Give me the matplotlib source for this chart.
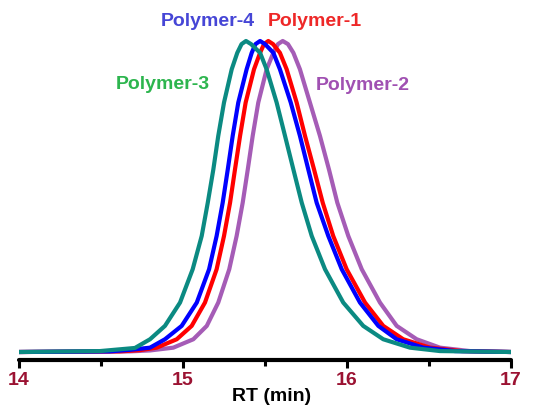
import matplotlib
matplotlib.use("Agg")
import matplotlib.pyplot as plt

# values (retention time in min, normalised signal)
rt_p3 = [14.000, 14.494, 14.707, 14.799, 14.890, 14.982, 15.059, 15.114, 15.151, 15.185,
         15.215, 15.250, 15.297, 15.331, 15.357, 15.384, 15.415, 15.470, 15.510, 15.571,
         15.622, 15.673, 15.724, 15.785, 15.866, 15.977, 16.099, 16.221, 16.384, 16.567, 17.000]
sig_p3 = [0.0, 0.003, 0.013, 0.041, 0.084, 0.159, 0.266, 0.373, 0.480, 0.587,
          0.695, 0.802, 0.909, 0.962, 0.990, 1.0, 0.990, 0.962, 0.909, 0.802,
          0.695, 0.587, 0.480, 0.373, 0.266, 0.159, 0.084, 0.041, 0.014, 0.003, 0.0]

rt_p4 = [14.000, 14.555, 14.677, 14.799, 14.890, 14.992, 15.084, 15.159, 15.205, 15.242,
         15.273, 15.303, 15.337, 15.388, 15.419, 15.442, 15.470, 15.500, 15.551, 15.591,
         15.657, 15.713, 15.764, 15.815, 15.886, 15.968, 16.079, 16.191, 16.303, 16.465,
         16.659, 17.000]
sig_p4 = [0.0, 0.002, 0.007, 0.014, 0.041, 0.084, 0.159, 0.266, 0.373, 0.480,
          0.587, 0.695, 0.802, 0.909, 0.962, 0.990, 1.0, 0.990, 0.962, 0.909,
          0.802, 0.695, 0.587, 0.480, 0.373, 0.266, 0.159, 0.084, 0.041, 0.014,
          0.003, 0.0]

rt_p1 = [14.000, 14.616, 14.738, 14.840, 14.962, 15.053, 15.134, 15.205, 15.250, 15.287,
         15.317, 15.348, 15.382, 15.433, 15.470, 15.494, 15.520, 15.549, 15.591, 15.632,
         15.693, 15.744, 15.799, 15.852, 15.916, 15.998, 16.110, 16.221, 16.343, 16.506,
         16.701, 17.000]
sig_p1 = [0.0, 0.002, 0.006, 0.014, 0.041, 0.084, 0.159, 0.266, 0.373, 0.480,
          0.587, 0.695, 0.802, 0.909, 0.962, 0.990, 1.0, 0.990, 0.962, 0.909,
          0.802, 0.695, 0.587, 0.480, 0.373, 0.266, 0.159, 0.084, 0.041, 0.014,
          0.003, 0.0]

rt_p2 = [14.000, 14.677, 14.799, 14.941, 15.063, 15.145, 15.215, 15.282, 15.327, 15.364,
         15.395, 15.425, 15.459, 15.510, 15.551, 15.579, 15.608, 15.640, 15.673, 15.713,
         15.774, 15.835, 15.890, 15.941, 16.008, 16.090, 16.201, 16.303, 16.425, 16.567,
         16.750, 17.000]
sig_p2 = [0.0, 0.002, 0.005, 0.014, 0.041, 0.084, 0.159, 0.266, 0.373, 0.480,
          0.587, 0.695, 0.802, 0.909, 0.962, 0.990, 1.0, 0.990, 0.962, 0.909,
          0.802, 0.695, 0.587, 0.480, 0.373, 0.266, 0.159, 0.084, 0.041, 0.014,
          0.003, 0.0]

x_ticks = [14, 15, 16, 17]
x_minor = [14.5, 15.5, 16.5]


def main():
    plt.rcParams["font.family"] = ["Liberation Sans", "DejaVu Sans"]
    plt.rcParams["font.weight"] = "bold"

    fig = plt.figure(figsize=(5.38, 4.07), dpi=100)
    ax = fig.add_axes([19 / 538, 47 / 407, 492 / 538, 340 / 407])

    lw = 3.0
    ax.plot(rt_p2, sig_p2, color="#a55cb6", lw=lw, solid_joinstyle="round")
    ax.plot(rt_p1, sig_p1, color="#ff0000", lw=lw, solid_joinstyle="round")
    ax.plot(rt_p4, sig_p4, color="#0000ff", lw=lw, solid_joinstyle="round")
    ax.plot(rt_p3, sig_p3, color="#0b8a82", lw=lw, solid_joinstyle="round")

    ax.set_xlim(14, 17)
    ax.set_ylim(-0.0257, 1.0675)

    for side in ["top", "left", "right"]:
        ax.spines[side].set_visible(False)
    ax.spines["bottom"].set_linewidth(3.0)
    ax.spines["bottom"].set_capstyle("round")
    ax.set_yticks([])

    ax.set_xticks(x_ticks)
    ax.set_xticks(x_minor, minor=True)
    ax.tick_params(axis="x", which="major", length=5.5, width=2.2, pad=3,
                   labelsize=14, labelcolor="#9b1232")
    ax.tick_params(axis="x", which="minor", length=4, width=2.2)
    for lab in ax.get_xticklabels():
        lab.set_fontweight("bold")

    fig.text(272 / 538, 6 / 407, "RT (min)", ha="center", va="baseline",
             fontsize=14, fontweight="bold", color="black")

    ax.text(15.152, 1.047, "Polymer-4", color="#4646d6", fontsize=14,
            fontweight="bold", ha="center", va="baseline", clip_on=False)
    ax.text(15.805, 1.047, "Polymer-1", color="#ee2828", fontsize=14,
            fontweight="bold", ha="center", va="baseline", clip_on=False)
    ax.text(14.878, 0.846, "Polymer-3", color="#2db54e", fontsize=14,
            fontweight="bold", ha="center", va="baseline")
    ax.text(16.098, 0.843, "Polymer-2", color="#a050b2", fontsize=14,
            fontweight="bold", ha="center", va="baseline")

    fig.savefig("out.png", dpi=100)


if __name__ == "__main__":
    main()
